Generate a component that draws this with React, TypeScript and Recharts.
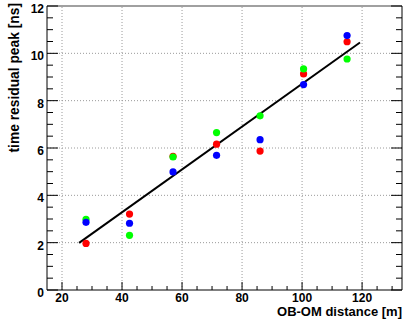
import React from 'react';
import { ScatterChart, Scatter, XAxis, YAxis, ReferenceLine } from 'recharts';

// OB-OM distance [m]
const distances = [28, 42.5, 57, 71.5, 86, 100.5, 115];
// time residual peak [ns] per channel
const redPeak = [1.97, 3.21, 5.65, 6.16, 5.87, 9.13, 10.49];
const greenPeak = [2.99, 2.31, 5.62, 6.65, 7.36, 9.34, 9.76];
const bluePeak = [2.86, 2.82, 4.99, 5.69, 6.35, 8.68, 10.75];

// linear fit endpoints
const fitX = [25.7, 119.3];
const fitY = [1.99, 10.46];

const xTicks = [20, 25, 30, 35, 40, 45, 50, 55, 60, 65, 70, 75, 80, 85, 90, 95, 100, 105, 110, 115, 120, 125, 130];
const xMajor = [20, 40, 60, 80, 100, 120];
const yTicks = [0, 0.5, 1, 1.5, 2, 2.5, 3, 3.5, 4, 4.5, 5, 5.5, 6, 6.5, 7, 7.5, 8, 8.5, 9, 9.5, 10, 10.5, 11, 11.5, 12];
const yMajor = [0, 2, 4, 6, 8, 10, 12];
const gridX = [20, 40, 60, 80, 100, 120];
const gridY = [2, 4, 6, 8, 10];

const FONT = '"Liberation Sans", Arial, sans-serif';

const toPoints = (ys: number[]) => distances.map((d, i) => ({ x: d, y: ys[i] }));
const fitData = fitX.map((x, i) => ({ x, y: fitY[i] }));

const dot = (color: string) => (p: any) => <circle cx={p.cx} cy={p.cy} r={3.6} fill={color} />;

const BottomTick = (props: any) => {
    const { x, y, payload } = props;
    const major = xMajor.includes(payload.value);
    return (
        <g>
            <line x1={x} x2={x} y1={y} y2={y - (major ? 8 : 4)} stroke="#000" />
            {major && (
                <text x={x} y={y + 12} textAnchor="middle" fontFamily={FONT} fontWeight="bold" fontSize={12} fill="#000">
                    {payload.value}
                </text>
            )}
        </g>
    );
};

const LeftTick = (props: any) => {
    const { x, y, payload } = props;
    const major = yMajor.includes(payload.value);
    return (
        <g>
            <line x1={x} x2={x + (major ? 11 : 6)} y1={y} y2={y} stroke="#000" />
            {major && (
                <text x={x - 3} y={y + 7} textAnchor="end" fontFamily={FONT} fontWeight="bold" fontSize={12} fill="#000">
                    {payload.value}
                </text>
            )}
        </g>
    );
};

const RightTick = (props: any) => {
    const { x, y, payload } = props;
    const major = yMajor.includes(payload.value);
    return <line x1={x} x2={x - (major ? 11 : 6)} y1={y} y2={y} stroke="#000" />;
};

export default function App() {
    return (
        <div style={{ position: 'absolute', left: 0, top: 0, width: 409, height: 323, background: '#fff' }}>
            <ScatterChart width={409} height={323} margin={{ top: 6, right: 6, bottom: 32, left: 46 }}>
                <XAxis
                    xAxisId="b"
                    dataKey="x"
                    type="number"
                    domain={[15, 133.3]}
                    allowDataOverflow
                    ticks={xTicks}
                    interval={0}
                    height={1}
                    tickSize={0}
                    tickMargin={0}
                    tick={<BottomTick />}
                    axisLine={{ stroke: '#000' }}
                    label={{
                        content: (p: any) => (
                            <text
                                x={p.viewBox.x + p.viewBox.width}
                                y={p.viewBox.y + 26}
                                textAnchor="end"
                                fontFamily={FONT}
                                fontWeight="bold"
                                fontSize={13}
                                fill="#000"
                            >
                                OB-OM distance [m]
                            </text>
                        ),
                    }}
                />
                <YAxis
                    yAxisId="l"
                    dataKey="y"
                    type="number"
                    domain={[0, 12]}
                    allowDataOverflow
                    ticks={yTicks}
                    interval={0}
                    width={1}
                    tickSize={0}
                    tickMargin={0}
                    tick={<LeftTick />}
                    axisLine={{ stroke: '#000' }}
                    label={{
                        content: (p: any) => (
                            <text
                                transform={`translate(${p.viewBox.x - 32}, 3) rotate(-90)`}
                                textAnchor="end"
                                dominantBaseline="central"
                                fontFamily={FONT}
                                fontWeight="bold"
                                fontSize={13.8}
                                fill="#000"
                            >
                                time residual peak [ns]
                            </text>
                        ),
                    }}
                />
                <YAxis
                    yAxisId="r"
                    orientation="right"
                    type="number"
                    domain={[0, 12]}
                    allowDataOverflow
                    ticks={yTicks}
                    interval={0}
                    width={1}
                    tickSize={0}
                    tickMargin={0}
                    tick={<RightTick />}
                    axisLine={{ stroke: '#000' }}
                />
                {gridX.map((v) => (
                    <ReferenceLine key={'gx' + v} xAxisId="b" yAxisId="l" x={v} stroke="#9a9a9a" strokeDasharray="1 2" />
                ))}
                {gridY.map((v) => (
                    <ReferenceLine key={'gy' + v} xAxisId="b" yAxisId="l" y={v} stroke="#9a9a9a" strokeDasharray="1 2" />
                ))}
                <ReferenceLine xAxisId="b" yAxisId="l" y={12} stroke="#808080" strokeWidth={1.5} />
                <Scatter
                    xAxisId="b"
                    yAxisId="l"
                    data={fitData}
                    line={{ stroke: '#000', strokeWidth: 2 }}
                    shape={() => <g />}
                    isAnimationActive={false}
                />
                <Scatter xAxisId="b" yAxisId="l" data={toPoints(redPeak)} shape={dot('#ff0000')} isAnimationActive={false} />
                <Scatter xAxisId="b" yAxisId="l" data={toPoints(greenPeak)} shape={dot('#00ff00')} isAnimationActive={false} />
                <Scatter xAxisId="b" yAxisId="l" data={toPoints(bluePeak)} shape={dot('#0000ff')} isAnimationActive={false} />
            </ScatterChart>
        </div>
    );
}
